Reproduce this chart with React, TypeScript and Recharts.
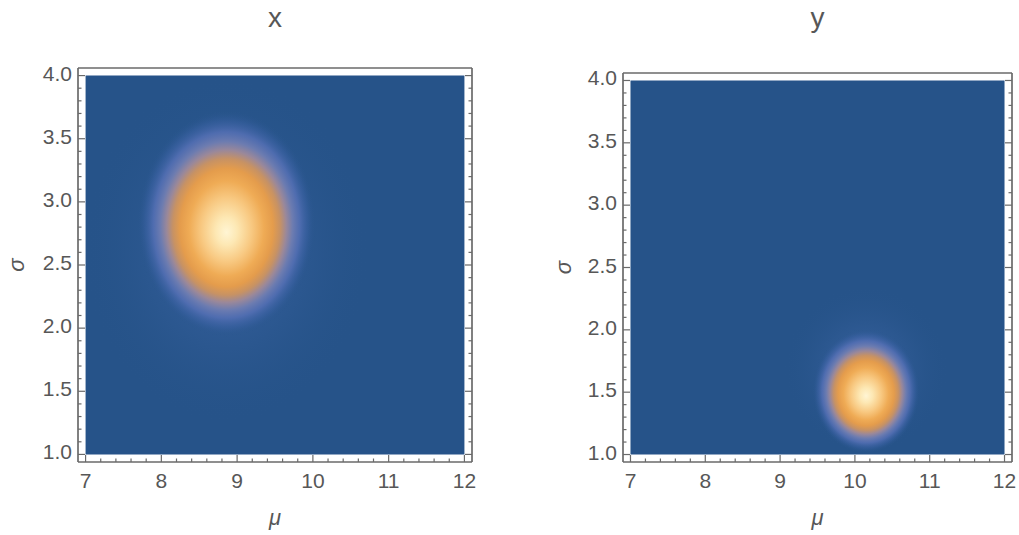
import React from 'react';
import { ScatterChart, Scatter, XAxis, YAxis, ReferenceArea, Label } from 'recharts';

// ---- data ----
const panelTitles = ['x', 'y'];
const muTicks = [7, 8, 9, 10, 11, 12];
const sigmaTicks = [1, 1.5, 2, 2.5, 3, 3.5, 4];
const muRange = [7, 12];
const sigmaRange = [1, 4];
// location of the density peak in each panel
const peakMu = [8.86, 10.15];
const peakSigma = [2.83, 1.51];
// half-extent of the visible bright region
const spreadMu = [1.18, 0.72];
const spreadSigma = [0.9, 0.5];
// faint wide glow
const glowMu = [1.9, 1.1];
const glowSigma = [1.6, 0.85];

const BG = '#265389';
const FRAME = '#6a6a6a';
const TEXT = '#575757';
const FONT = '"Liberation Sans", Arial, Helvetica, sans-serif';

function subdivide(majors: number[], n: number) {
  const out: number[] = [];
  for (let i = 0; i < majors.length - 1; i++) {
    const a = majors[i];
    const b = majors[i + 1];
    for (let k = 0; k < n; k++) out.push(Number((a + ((b - a) * k) / n).toFixed(4)));
  }
  out.push(majors[majors.length - 1]);
  return out;
}
const muAll = subdivide(muTicks, 5);
const sigmaAll = subdivide(sigmaTicks, 5);

const isMajor = (majors: number[], v: number) => majors.some((m) => Math.abs(m - v) < 1e-6);

function makeTick(side: 'bottom' | 'top' | 'left' | 'right', majors: number[], fmt: (v: number) => string) {
  return (props: any) => {
    const { x, y, payload } = props;
    const v = payload.value;
    const major = isMajor(majors, v);
    const len = major ? 7 : 3.5;
    let line;
    let label = null;
    if (side === 'bottom') {
      line = <line x1={x} y1={y} x2={x} y2={y - len} stroke={FRAME} strokeWidth={1.2} />;
      if (major)
        label = (
          <text x={x} y={y + 26} textAnchor="middle" fontSize={21} fill={TEXT} fontFamily={FONT}>
            {fmt(v)}
          </text>
        );
    } else if (side === 'top') {
      line = <line x1={x} y1={y} x2={x} y2={y + len} stroke={FRAME} strokeWidth={1.2} />;
    } else if (side === 'left') {
      line = <line x1={x} y1={y} x2={x + len} y2={y} stroke={FRAME} strokeWidth={1.2} />;
      if (major)
        label = (
          <text x={x - 6} y={y + 5} textAnchor="end" fontSize={21} fill={TEXT} fontFamily={FONT}>
            {fmt(v)}
          </text>
        );
    } else {
      line = <line x1={x} y1={y} x2={x - len} y2={y} stroke={FRAME} strokeWidth={1.2} />;
    }
    return (
      <g>
        {line}
        {label}
      </g>
    );
  };
}

const blobStops: [number, string, number][] = [
  [0, '#fff5d4', 1],
  [0.12, '#fde8b4', 1],
  [0.28, '#f8c982', 1],
  [0.42, '#efab55', 1],
  [0.52, '#e49c4c', 1],
  [0.6, '#c79264', 1],
  [0.67, '#9a889a', 1],
  [0.74, '#6d7cb0', 1],
  [0.82, '#5570b5', 0.85],
  [0.91, '#3d63a6', 0.45],
  [1, BG, 0],
];

function gradientRect(id: string, stops: [number, string, number][], fy: string) {
  return (props: any) => {
    const { x, y, width, height } = props;
    return (
      <g>
        <defs>
          <radialGradient id={id} cx="50%" cy="50%" r="50%" fx="50%" fy={fy}>
            {stops.map(([o, c, a], i) => (
              <stop key={i} offset={o} stopColor={c} stopOpacity={a} />
            ))}
          </radialGradient>
        </defs>
        <rect x={x} y={y} width={width} height={height} fill={`url(#${id})`} />
      </g>
    );
  };
}

const glowStops: [number, string, number][] = [
  [0, '#5a7cc0', 0.4],
  [0.5, '#4a70b5', 0.18],
  [1, BG, 0],
];

type PanelProps = {
  idx: number;
  left: number;
  width: number;
  margin: { top: number; right: number; bottom: number; left: number };
  yAxisWidth: number;
  sigmaX: number;
};

function Panel({ idx, left, width, margin, yAxisWidth, sigmaX }: PanelProps) {
  const muPad = (muRange[1] - muRange[0]) * 0.02;
  const sigmaPad = (sigmaRange[1] - sigmaRange[0]) * 0.02;
  const xDomain = [muRange[0] - muPad, muRange[1] + muPad];
  const yDomain = [sigmaRange[0] - sigmaPad, sigmaRange[1] + sigmaPad];
  const peak = [{ mu: peakMu[idx], sigma: peakSigma[idx] }];
  return (
    <div style={{ position: 'absolute', left, top: 0 }}>
      <ScatterChart width={width} height={535} margin={margin}>
        <XAxis
          xAxisId="b"
          dataKey="mu"
          type="number"
          orientation="bottom"
          domain={xDomain}
          allowDataOverflow
          ticks={muAll}
          interval={0}
          height={1}
          tickSize={0}
          tickMargin={0}
          tickLine={false}
          axisLine={{ stroke: FRAME, strokeWidth: 1.7 }}
          tick={makeTick('bottom', muTicks, (v) => String(v))}
        >
          <Label
            content={(p: any) => {
              const vb = p.viewBox;
              return (
                <text
                  x={vb.x + vb.width / 2}
                  y={525}
                  textAnchor="middle"
                  fontSize={22}
                  fontStyle="italic"
                  fill={TEXT}
                  fontFamily={FONT}
                >
                  μ
                </text>
              );
            }}
          />
        </XAxis>
        <XAxis
          xAxisId="t"
          type="number"
          orientation="top"
          domain={xDomain}
          allowDataOverflow
          ticks={muAll}
          interval={0}
          height={1}
          tickSize={0}
          tickMargin={0}
          tickLine={false}
          axisLine={{ stroke: FRAME, strokeWidth: 1.7 }}
          tick={makeTick('top', muTicks, (v) => String(v))}
        >
          <Label
            content={(p: any) => {
              const vb = p.viewBox;
              return (
                <text
                  x={vb.x + vb.width / 2}
                  y={27}
                  textAnchor="middle"
                  fontSize={28}
                  fill={TEXT}
                  fontFamily={FONT}
                >
                  {panelTitles[idx]}
                </text>
              );
            }}
          />
        </XAxis>
        <YAxis
          yAxisId="l"
          dataKey="sigma"
          type="number"
          orientation="left"
          domain={yDomain}
          allowDataOverflow
          ticks={sigmaAll}
          interval={0}
          width={yAxisWidth}
          tickSize={0}
          tickMargin={0}
          tickLine={false}
          axisLine={{ stroke: FRAME, strokeWidth: 1.7 }}
          tick={makeTick('left', sigmaTicks, (v) => v.toFixed(1))}
        >
          <Label
            content={(p: any) => {
              const vb = p.viewBox;
              const cy = vb.y + vb.height / 2;
              return (
                <text
                  x={sigmaX}
                  y={cy}
                  transform={`rotate(-90 ${sigmaX} ${cy})`}
                  textAnchor="middle"
                  dominantBaseline="central"
                  fontSize={22}
                  fontStyle="italic"
                  fill={TEXT}
                  fontFamily={FONT}
                >
                  σ
                </text>
              );
            }}
          />
        </YAxis>
        <YAxis
          yAxisId="r"
          type="number"
          orientation="right"
          domain={yDomain}
          allowDataOverflow
          ticks={sigmaAll}
          interval={0}
          width={1}
          tickSize={0}
          tickMargin={0}
          tickLine={false}
          axisLine={{ stroke: FRAME, strokeWidth: 1.7 }}
          tick={makeTick('right', sigmaTicks, (v) => v.toFixed(1))}
        />
        <ReferenceArea
          xAxisId="b"
          yAxisId="l"
          x1={muRange[0]}
          x2={muRange[1]}
          y1={sigmaRange[0]}
          y2={sigmaRange[1]}
          fill={BG}
          fillOpacity={1}
          stroke="none"
        />
        <ReferenceArea
          xAxisId="b"
          yAxisId="l"
          x1={peakMu[idx] - glowMu[idx]}
          x2={peakMu[idx] + glowMu[idx]}
          y1={Math.max(sigmaRange[0], peakSigma[idx] - glowSigma[idx])}
          y2={Math.min(sigmaRange[1], peakSigma[idx] + glowSigma[idx])}
          ifOverflow="hidden"
          shape={gradientRect(`glow${idx}`, glowStops, '50%')}
        />
        <ReferenceArea
          xAxisId="b"
          yAxisId="l"
          x1={peakMu[idx] - spreadMu[idx]}
          x2={peakMu[idx] + spreadMu[idx]}
          y1={peakSigma[idx] - spreadSigma[idx]}
          y2={peakSigma[idx] + spreadSigma[idx]}
          ifOverflow="hidden"
          shape={gradientRect(`blob${idx}`, blobStops, '54%')}
        />
        <Scatter
          xAxisId="b"
          yAxisId="l"
          data={peak}
          isAnimationActive={false}
          shape={() => <g />}
        />
      </ScatterChart>
    </div>
  );
}

export default function App() {
  return (
    <div style={{ position: 'absolute', left: 0, top: 0, width: 1019, height: 535, background: '#fff' }}>
      <Panel
        idx={0}
        left={0}
        width={510}
        margin={{ top: 67, right: 37, bottom: 72, left: 0 }}
        yAxisWidth={78}
        sigmaX={16}
      />
      <Panel
        idx={1}
        left={520}
        width={499}
        margin={{ top: 72, right: 6, bottom: 72, left: 0 }}
        yAxisWidth={103}
        sigmaX={43}
      />
    </div>
  );
}
